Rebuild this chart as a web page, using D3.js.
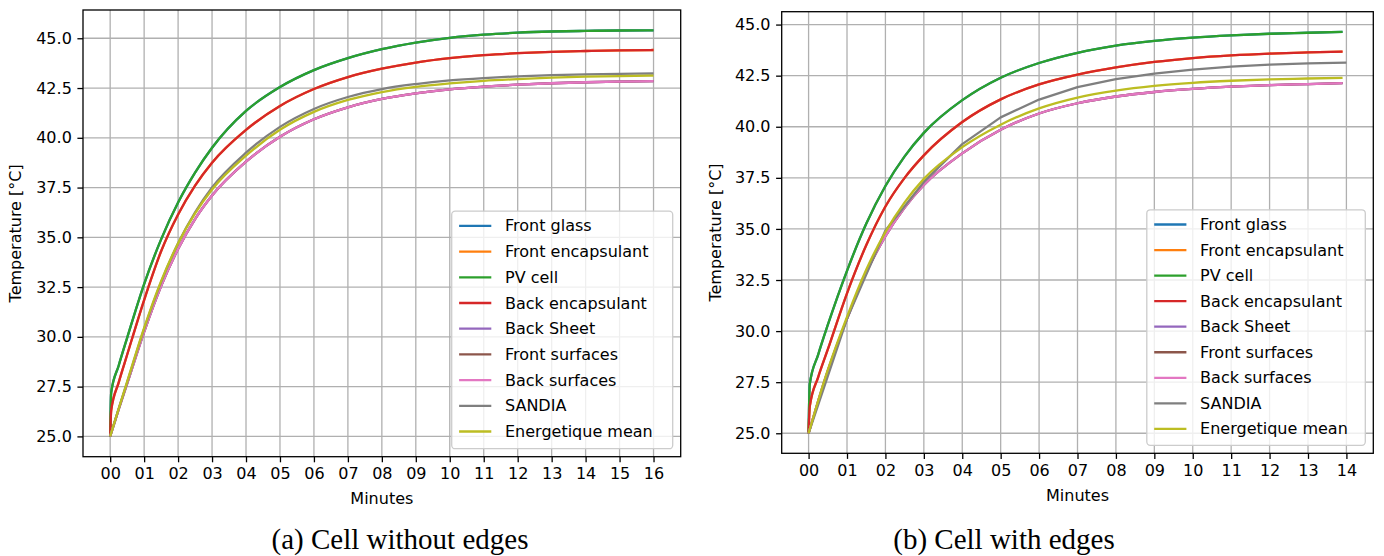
<!DOCTYPE html>
<meta charset="utf-8">
<head>
	<script src="https://d3js.org/d3.v7.min.js"></script>
</head>
<style>
	body { margin: 0; background: #fff; }
	svg text { font-family: "DejaVu Sans", sans-serif; fill: #000; }
	.grid line { stroke: #b0b0b0; stroke-width: 1.3px; }
	.frame { fill: none; stroke: #000; stroke-width: 1.3px; }
	.tick line { stroke: #000; stroke-width: 1.3px; }
	.series { fill: none; stroke-width: 2.3px; stroke-linejoin: round; }
	.caption { font-family: "Liberation Serif", "DejaVu Serif", serif !important; font-size: 29px; }
</style>
<body>
<svg id="chart" width="1384" height="556"></svg>
<script>
	// legend labels and matplotlib tab10 colours
	var seriesNames = ["Front glass", "Front encapsulant", "PV cell", "Back encapsulant", "Back Sheet",
		"Front surfaces", "Back surfaces", "SANDIA", "Energetique mean"];
	var seriesColors = ["#1f77b4", "#ff7f0e", "#2ca02c", "#d62728", "#9467bd",
		"#8c564b", "#e377c2", "#7f7f7f", "#bcbd22"];

	// ----- (a) cell without edges -----
	var minutesA = [0, 0.03, 0.25, 0.5, 1, 1.5, 2, 2.5, 3, 4, 5, 6, 7, 8, 9, 10, 11, 12, 13, 14, 15, 16];
	var frontGlassA  = [25, 27.2, 28.55, 29.95, 32.65, 34.9, 36.75, 38.25, 39.5, 41.35, 42.55, 43.4, 44.0, 44.45, 44.78, 45.02, 45.18, 45.28, 45.34, 45.37, 45.39, 45.4];
	var pvCellA      = [25, 27.2, 28.55, 29.95, 32.65, 34.9, 36.75, 38.25, 39.5, 41.35, 42.55, 43.4, 44.0, 44.45, 44.78, 45.02, 45.18, 45.28, 45.34, 45.37, 45.39, 45.4];
	var frontEncA    = [25, 26.3, 27.7, 29.1, 31.85, 34.3, 36.15, 37.6, 38.75, 40.4, 41.6, 42.45, 43.05, 43.47, 43.78, 44.0, 44.15, 44.25, 44.32, 44.36, 44.39, 44.41];
	var backEncA     = [25, 26.3, 27.7, 29.1, 31.85, 34.3, 36.15, 37.6, 38.75, 40.4, 41.6, 42.45, 43.05, 43.47, 43.78, 44.0, 44.15, 44.25, 44.32, 44.36, 44.39, 44.41];
	var backSheetA   = [25, 25.16, 26.35, 27.65, 30.25, 32.55, 34.42, 35.92, 37.1, 38.8, 40.05, 40.93, 41.53, 41.95, 42.23, 42.43, 42.57, 42.67, 42.74, 42.79, 42.82, 42.85];
	var frontSurfA   = [25, 25.16, 26.35, 27.65, 30.25, 32.55, 34.42, 35.92, 37.1, 38.8, 40.05, 40.93, 41.53, 41.95, 42.23, 42.43, 42.57, 42.67, 42.74, 42.79, 42.82, 42.85];
	var backSurfA    = [25, 25.16, 26.35, 27.65, 30.25, 32.55, 34.42, 35.92, 37.1, 38.8, 40.05, 40.93, 41.53, 41.95, 42.23, 42.43, 42.57, 42.67, 42.74, 42.79, 42.82, 42.85];
	var sandiaA      = [25, 25.17, 26.38, 27.72, 30.4, 32.75, 34.7, 36.25, 37.5, 39.25, 40.55, 41.45, 42.05, 42.45, 42.7, 42.88, 43.0, 43.09, 43.15, 43.19, 43.21, 43.23];
	var energetiqueA = [25, 25.17, 26.39, 27.75, 30.45, 32.8, 34.7, 36.2, 37.4, 39.1, 40.4, 41.3, 41.9, 42.3, 42.56, 42.73, 42.86, 42.95, 43.02, 43.07, 43.1, 43.12];

	// ----- (b) cell with edges -----
	var minutesB = [0, 0.03, 0.25, 0.5, 1, 1.5, 2, 2.5, 3, 4, 5, 6, 7, 8, 9, 10, 11, 12, 13, 13.9];
	var frontGlassB  = [25, 27.4, 28.85, 30.3, 32.95, 35.25, 37.1, 38.55, 39.7, 41.3, 42.4, 43.12, 43.62, 43.97, 44.2, 44.36, 44.47, 44.55, 44.6, 44.64];
	var pvCellB      = [25, 27.4, 28.85, 30.3, 32.95, 35.25, 37.1, 38.55, 39.7, 41.3, 42.4, 43.12, 43.62, 43.97, 44.2, 44.36, 44.47, 44.55, 44.6, 44.64];
	var frontEncB    = [25, 26.3, 27.75, 29.1, 31.85, 34.2, 36.1, 37.5, 38.6, 40.23, 41.34, 42.07, 42.55, 42.9, 43.17, 43.36, 43.49, 43.58, 43.64, 43.68];
	var backEncB     = [25, 26.3, 27.75, 29.1, 31.85, 34.2, 36.1, 37.5, 38.6, 40.23, 41.34, 42.07, 42.55, 42.9, 43.17, 43.36, 43.49, 43.58, 43.64, 43.68];
	var backSheetB   = [25, 25.19, 26.58, 28.05, 30.6, 32.85, 34.65, 36.05, 37.15, 38.7, 39.85, 40.65, 41.15, 41.48, 41.7, 41.85, 41.96, 42.04, 42.09, 42.13];
	var frontSurfB   = [25, 25.19, 26.58, 28.05, 30.6, 32.85, 34.65, 36.05, 37.15, 38.7, 39.85, 40.65, 41.15, 41.48, 41.7, 41.85, 41.96, 42.04, 42.09, 42.13];
	var backSurfB    = [25, 25.19, 26.58, 28.05, 30.6, 32.85, 34.65, 36.05, 37.15, 38.7, 39.85, 40.65, 41.15, 41.48, 41.7, 41.85, 41.96, 42.04, 42.09, 42.13];
	var energetiqueB = [25, 25.19, 26.6, 28.1, 30.7, 33.0, 34.85, 36.3, 37.45, 39.0, 40.1, 40.9, 41.43, 41.77, 42.0, 42.15, 42.25, 42.32, 42.36, 42.39];
	// SANDIA on the right is sampled once a minute (visible kinks)
	var minutesSandiaB = [0, 1, 2, 3, 4, 5, 6, 7, 8, 9, 10, 11, 12, 13, 14];
	var sandiaB      = [25, 30.6, 34.93, 37.3, 39.15, 40.46, 41.33, 41.94, 42.33, 42.6, 42.8, 42.94, 43.04, 43.1, 43.14];

	var yTickValues = [25, 27.5, 30, 32.5, 35, 37.5, 40, 42.5, 45];

	var panels = [
		{ left: 83, top: 10, right: 680.7, bottom: 456.7, xDomain: [-0.8, 16.8], yDomain: [23.98, 46.42],
		  xTicks: d3.range(0, 17), caption: "(a) Cell without edges", captionX: 400, ylabelX: 21,
		  legend: { w: 221, h: 237.5, rowH: 25.7 },
		  series: [
			{ t: minutesA, v: frontGlassA }, { t: minutesA, v: frontEncA }, { t: minutesA, v: pvCellA },
			{ t: minutesA, v: backEncA }, { t: minutesA, v: backSheetA }, { t: minutesA, v: frontSurfA },
			{ t: minutesA, v: backSurfA }, { t: minutesA, v: sandiaA }, { t: minutesA, v: energetiqueA }
		  ] },
		{ left: 781.7, top: 11.7, right: 1373.3, bottom: 453.3, xDomain: [-0.7, 14.7], yDomain: [24.02, 45.63],
		  xTicks: d3.range(0, 15), caption: "(b) Cell with edges", captionX: 1004, ylabelX: 721,
		  legend: { w: 218.5, h: 235.5, rowH: 25.55 },
		  series: [
			{ t: minutesB, v: frontGlassB }, { t: minutesB, v: frontEncB }, { t: minutesB, v: pvCellB },
			{ t: minutesB, v: backEncB }, { t: minutesB, v: backSheetB }, { t: minutesB, v: frontSurfB },
			{ t: minutesB, v: backSurfB }, { t: minutesSandiaB, v: sandiaB, linear: true }, { t: minutesB, v: energetiqueB }
		  ] }
	];

	var svg = d3.select("#chart");

	panels.forEach(function(p) {
		var x = d3.scaleLinear().domain(p.xDomain).range([p.left, p.right]);
		var y = d3.scaleLinear().domain(p.yDomain).range([p.bottom, p.top]);
		var g = svg.append("g");

		// grid
		var grid = g.append("g").attr("class", "grid");
		grid.selectAll(".vx").data(p.xTicks).enter().append("line")
			.attr("x1", d => x(d)).attr("x2", d => x(d))
			.attr("y1", p.top).attr("y2", p.bottom);
		grid.selectAll(".hy").data(yTickValues).enter().append("line")
			.attr("x1", p.left).attr("x2", p.right)
			.attr("y1", d => y(d)).attr("y2", d => y(d));

		// series lines
		p.series.forEach(function(s, i) {
			var pts = s.t.map(function(t, k) { return [t, s.v[k]]; });
			var line = d3.line()
				.curve(s.linear ? d3.curveLinear : d3.curveMonotoneX)
				.x(d => x(d[0])).y(d => y(d[1]));
			g.append("path")
				.attr("class", "series")
				.attr("stroke", seriesColors[i])
				.attr("d", line(pts));
		});

		// axes
		var xAxis = d3.axisBottom(x).tickValues(p.xTicks).tickFormat(d3.format("02d"))
			.tickSize(5.6).tickPadding(5.6);
		var yAxis = d3.axisLeft(y).tickValues(yTickValues).tickFormat(d3.format(".1f"))
			.tickSize(5.6).tickPadding(5.6);
		var gx = g.append("g").attr("transform", "translate(0," + p.bottom + ")").call(xAxis);
		var gy = g.append("g").attr("transform", "translate(" + p.left + ",0)").call(yAxis);
		[gx, gy].forEach(function(a) {
			a.select(".domain").remove();
			a.selectAll("text").style("font-size", "16px");
		});
		gx.selectAll("text").attr("dy", "0.71em");

		g.append("rect").attr("class", "frame")
			.attr("x", p.left).attr("y", p.top)
			.attr("width", p.right - p.left).attr("height", p.bottom - p.top);

		// axis labels
		g.append("text")
			.attr("x", (p.left + p.right) / 2).attr("y", p.bottom + 47.5)
			.attr("text-anchor", "middle").style("font-size", "16px")
			.text("Minutes");
		g.append("text")
			.attr("transform", "translate(" + p.ylabelX + "," + (p.top + p.bottom) / 2 + ") rotate(-90)")
			.attr("text-anchor", "middle").style("font-size", "16px")
			.text("Temperature [°C]");

		// legend
		var lx = p.right - 8 - p.legend.w, ly = p.bottom - 8 - p.legend.h;
		var leg = g.append("g").attr("transform", "translate(" + lx + "," + ly + ")");
		leg.append("rect")
			.attr("width", p.legend.w).attr("height", p.legend.h)
			.attr("rx", 3.5).attr("ry", 3.5)
			.attr("fill", "#fff").attr("fill-opacity", 0.8)
			.attr("stroke", "#cccccc").attr("stroke-width", 1.3);
		var rows = leg.selectAll(".row").data(seriesNames).enter().append("g")
			.attr("transform", (d, i) => "translate(0," + (14.7 + i * p.legend.rowH) + ")");
		rows.append("line")
			.attr("x1", 7.4).attr("x2", 39.6)
			.attr("stroke", (d, i) => seriesColors[i])
			.attr("stroke-width", 2.3);
		rows.append("text")
			.attr("x", 53.3).attr("y", 5.5)
			.style("font-size", "16px")
			.text(d => d);

		// caption
		svg.append("text")
			.attr("class", "caption")
			.attr("x", p.captionX).attr("y", 549)
			.attr("text-anchor", "middle")
			.text(p.caption);
	});
</script>
</body>
